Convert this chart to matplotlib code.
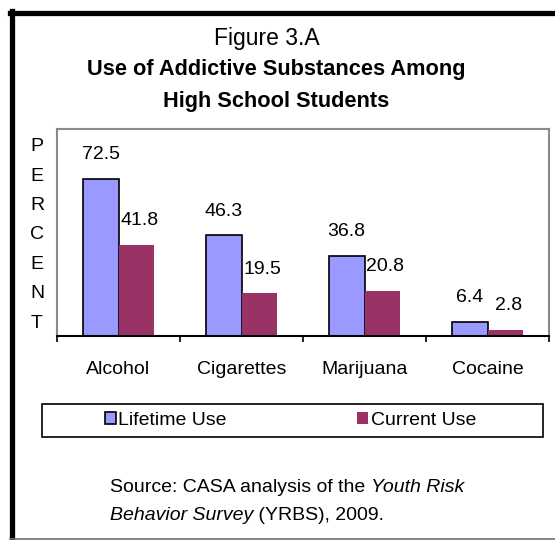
import matplotlib.pyplot as plt
import numpy as np
from matplotlib.lines import Line2D
from matplotlib.patches import Rectangle

plt.rcParams['font.family'] = ['Liberation Sans', 'DejaVu Sans']

# 資料
categories = ['Alcohol', 'Cigarettes', 'Marijuana', 'Cocaine']
lifetime_use = [72.5, 46.3, 36.8, 6.4]
current_use = [41.8, 19.5, 20.8, 2.8]

W, H = 555, 540
fig = plt.figure(figsize=(W / 100, H / 100), dpi=100)

def fx(px):
    return px / W

def fy(py):
    return 1 - py / H

# 外框 (左、上粗黑線，下方灰線)
fig.add_artist(Line2D([fx(12), fx(12)], [fy(11), fy(540)], color='black', lw=3.8, transform=fig.transFigure))
fig.add_artist(Line2D([fx(10), fx(555)], [fy(13), fy(13)], color='black', lw=3.8, transform=fig.transFigure))
fig.add_artist(Line2D([fx(10), fx(555)], [fy(538.5), fy(538.5)], color='#707070', lw=1.2, transform=fig.transFigure))

# 標題
fig.text(fx(267), fy(39), 'Figure 3.A', ha='center', va='center', fontsize=16.5)
fig.text(fx(276), fy(70), 'Use of Addictive Substances Among', ha='center', va='center',
         fontsize=15.7, fontweight='bold')
fig.text(fx(276), fy(102), 'High School Students', ha='center', va='center',
         fontsize=15.7, fontweight='bold')

# 主圖
ax = fig.add_axes([fx(57), fy(335.7), fx(549) - fx(57), fy(129) - fy(335.7)])
x = np.arange(len(categories))
bw = 0.29
b1 = ax.bar(x - bw / 2, lifetime_use, bw, color='#9999FF', edgecolor='black', linewidth=1.2,
            label='Lifetime Use')
b2 = ax.bar(x + bw / 2, current_use, bw, color='#993366', edgecolor='none', label='Current Use')

for bars, vals, dx in [(b1, lifetime_use, 0), (b2, current_use, 2)]:
    for rect, v in zip(bars, vals):
        ax.annotate(f'{v}', (rect.get_x() + rect.get_width() / 2, v), xytext=(dx, 17.5),
                    textcoords='offset points', ha='center', va='center', fontsize=14)

ax.set_xlim(-0.5, 3.5)
ax.set_ylim(0, 95.5)
ax.set_yticks([])
ax.set_xticks(np.arange(-0.5, 4, 1))
ax.set_xticklabels([])
ax.tick_params(axis='x', which='major', direction='out', length=4.5, width=1.2, color='black')
ax.set_xticks(x, minor=True)
ax.set_xticklabels(categories, minor=True, fontsize=14)
ax.tick_params(axis='x', which='minor', length=0, pad=18.5)
for side in ['left', 'top', 'right']:
    ax.spines[side].set_color('#8a8a8a')
    ax.spines[side].set_linewidth(1.5)
ax.spines['bottom'].set_linewidth(1.5)

# 縱向 PERCENT
fig.text(fx(37), fy(235), 'P\nE\nR\nC\nE\nN\nT', ha='center', va='center', fontsize=14,
         linespacing=1.96)

# 圖例
fig.add_artist(Rectangle((fx(42), fy(437)), fx(543) - fx(42), fy(404) - fy(437), fill=False,
                         edgecolor='black', lw=1.2, transform=fig.transFigure))
fig.legend(handles=[b1, b2], loc='center', bbox_to_anchor=(fx(290.5), fy(420.5)), ncol=2,
           frameon=False, fontsize=14, handlelength=0.55, handleheight=0.55,
           handletextpad=0.15, columnspacing=6.7)

# 資料來源 (部分斜體)
renderer = fig.canvas.get_renderer()

def draw_line(parts, x0, y0):
    xp = x0
    for s, style in parts:
        t = fig.text(fx(xp), fy(y0), s, ha='left', va='center', fontsize=14, style=style)
        bb = t.get_window_extent(renderer)
        xp += bb.width

draw_line([('Source: CASA analysis of the ', 'normal'), ('Youth Risk', 'italic')], 110, 488)
draw_line([('Behavior Survey', 'italic'), (' (YRBS), 2009.', 'normal')], 110, 516)

fig.savefig('out.png', dpi=100)
